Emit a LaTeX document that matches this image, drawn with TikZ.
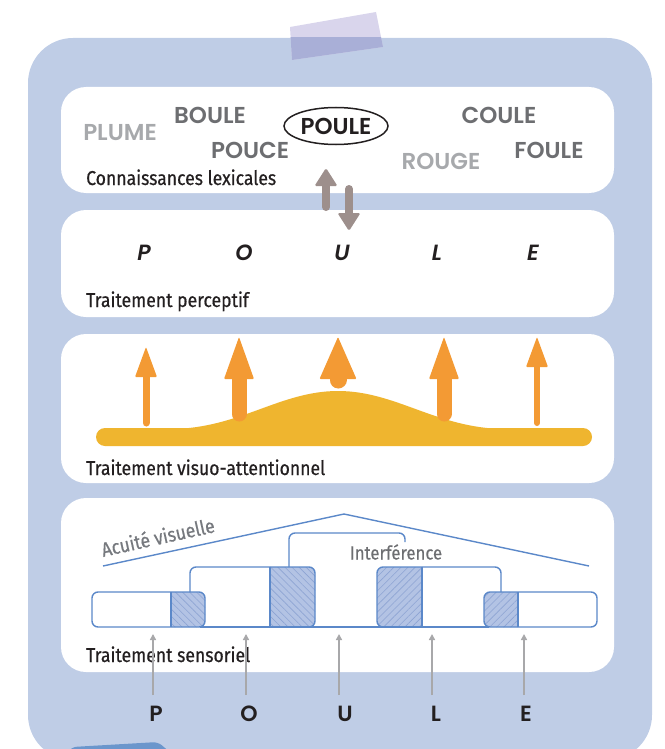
\documentclass[tikz,border=0pt]{standalone}
\usepackage{fontspec}
\setmainfont{Fira Sans}
\newfontfamily\labelfont[FakeStretch=0.88,FakeBold=0.5]{Fira Sans}
\newfontfamily\wordfont[BoldFont={* SemiBold},BoldItalicFont={* SemiBold Italic}]{Poppins}
\usetikzlibrary{patterns.meta,arrows.meta,shapes.geometric}

\definecolor{panelblue}{HTML}{BFCDE6}
\definecolor{tapelilac}{HTML}{D9D5EC}
\definecolor{tapeover}{HTML}{A9AFD7}
\definecolor{tabblue}{HTML}{6B96CC}
\definecolor{inkdark}{HTML}{231F20}
\definecolor{wordgrey}{HTML}{6D6E71}
\definecolor{palegrey}{HTML}{A7A9AC}
\definecolor{lexbrown}{HTML}{9D8F8C}
\definecolor{attorange}{HTML}{F39A34}
\definecolor{attyellow}{HTML}{EFB52F}
\definecolor{linkblue}{HTML}{5B88C9}
\definecolor{hatchfill}{HTML}{B3C3E4}
\definecolor{hatchline}{HTML}{8DA4D3}
\definecolor{stemgrey}{HTML}{A8A8AA}
\definecolor{acuitygrey}{HTML}{76797E}

\tikzset{
  stagebox/.style={fill=white, rounded corners=25, minimum width=553, inner sep=0},
  stagelabel/.style={font=\labelfont\fontsize{20}{20}\selectfont, text=inkdark, anchor=base west, inner sep=0},
  word/.style={font=\wordfont\bfseries\fontsize{23}{23}\selectfont, text=wordgrey, inner sep=0},
  paleword/.style={word, text=palegrey},
  percletter/.style={font=\wordfont\bfseries\itshape\fontsize{22}{22}\selectfont, text=inkdark, inner sep=0},
  inletter/.style={font=\wordfont\bfseries\fontsize{22}{22}\selectfont, text=inkdark, inner sep=0},
  link/.style={draw=linkblue, line width=1.4},
  hatchleft/.style={preaction={fill=hatchfill}, pattern={Lines[angle=-45,distance=5pt,line width=0.6pt]}, pattern color=hatchline},
  hatchright/.style={preaction={fill=hatchfill}, pattern={Lines[angle=45,distance=5pt,line width=0.6pt]}, pattern color=hatchline},
  stem/.style={draw=stemgrey, line width=1.6, -{Triangle[length=6,width=6]}},
}

\begin{document}
\begin{tikzpicture}[x=1pt,y=-1pt]
  \useasboundingbox (0,0) rectangle (664,749);
  \clip (0,0) rectangle (664,749);

  % panel, tape and tab
  \fill[panelblue, rounded corners=45] (28,38) rectangle (652,760);
  \fill[tapelilac] (290,27) -- (376,12) -- (383,47) -- (292,60) -- cycle;
  \begin{scope}
    \clip (0,38) rectangle (664,100);
    \fill[tapeover] (290,27) -- (376,12) -- (383,47) -- (292,60) -- cycle;
  \end{scope}
  \fill[tabblue, rounded corners=5] (66,754) -- (72,747) -- (158,742) -- (172,754) -- cycle;

  % the four stages
  \node[stagebox, minimum height=106] (lex) at (337.5,140) {};
  \node[stagebox, minimum height=107] (perc) at (337.5,263.5) {};
  \node[stagebox, minimum height=149] (att) at (337.5,408.5) {};
  \node[stagebox, minimum height=174] (sens) at (337.5,585) {};

  \node[stagelabel] (lexlabel) at (86,185) {Connaissances lexicales};
  \node[stagelabel] (perclabel) at (86,307) {Traitement perceptif};
  \node[stagelabel] (attlabel) at (86,475) {Traitement visuo-attentionnel};
  \node[stagelabel] (senslabel) at (86,662) {Traitement sensoriel};

  % lexical candidates
  \node[paleword] (plume) at (120,133) {PLUME};
  \node[word] (boule) at (210,115) {BOULE};
  \node[word] (pouce) at (250,150) {POUCE};
  \node[word, text=inkdark, draw=inkdark, line width=1.5, ellipse, minimum width=104, minimum height=37] (poule) at (336,126) {POULE};
  \node[word] (coule) at (499,115) {COULE};
  \node[paleword] (rouge) at (441,161) {ROUGE};
  \node[word] (foule) at (549,150) {FOULE};

  % exchange between lexicon and percept
  \draw[lexbrown, line width=8, line cap=round] (326,207) -- (326,184);
  \fill[lexbrown, rounded corners=1.5] (326,168) -- (337.5,186) -- (314.5,186) -- cycle;
  \draw[lexbrown, line width=8, line cap=round] (349,189) -- (349,214);
  \fill[lexbrown, rounded corners=1.5] (349,231) -- (360.5,213) -- (337.5,213) -- cycle;

  % perceived letters
  \foreach \x/\l in {144/P, 244/O, 342/U, 437/L, 533/E}
    \node[percletter] (perc\l) at (\x,253) {\l};

  % attention window
  \fill[attyellow, rounded corners=9] (96,428) rectangle (592,446);
  \fill[attyellow] (172,429) .. controls (240,428) and (280,391) .. (338,391)
    .. controls (396,391) and (436,428) .. (504,429) -- cycle;
  \foreach \x/\tip/\base/\hw/\sw/\bot in {146/347/377/11/7/423, 239/337/379/15/15/414,
      338/337/379/18.5/17/380, 444/337/379/15/15/414, 537/337/367/11/6/423} {
    \draw[attorange, line width=\sw, line cap=round] (\x,\bot) -- (\x,\base-1);
    \fill[attorange, rounded corners=1] (\x,\tip) -- (\x+\hw,\base) -- (\x-\hw,\base) -- cycle;
  }

  % sensory input
  \draw[link] (103,566) -- (344,514) -- (589,566);
  \node[font=\labelfont\fontsize{20}{20}\selectfont, text=acuitygrey, anchor=base west, inner sep=0, rotate=12.5] (acuity) at (103,557) {Acuité visuelle};
  \node[font=\labelfont\fontsize{19}{19}\selectfont, text=wordgrey, inner sep=0] (interf) at (396,552) {Interférence};

  \begin{scope}
    \clip[rounded corners=6] (92,592) rectangle (205,627);
    \path[hatchleft] (171,585) rectangle (212,635);
  \end{scope}
  \draw[link, rounded corners=6] (92,592) rectangle (205,627);
  \draw[link] (171,592) -- (171,627);

  \begin{scope}
    \clip (270,560) rectangle (330,635);
    \path[hatchleft, link, rounded corners=6] (255,567) rectangle (315,627);
  \end{scope}
  \draw[link] (270,567) -- (270,627);

  \begin{scope}
    \clip (360,560) rectangle (422,635);
    \path[hatchright, link, rounded corners=6] (377,567) rectangle (437,627);
  \end{scope}
  \draw[link] (422,567) -- (422,627);

  \begin{scope}
    \clip[rounded corners=6] (484,592) rectangle (597,627);
    \path[hatchright] (478,585) rectangle (518,635);
  \end{scope}
  \draw[link, rounded corners=6] (484,592) rectangle (597,627);
  \draw[link] (518,592) -- (518,627);

  \draw[link] (200,627) -- (489,627);
  \draw[link, rounded corners=6] (190,592) |- (270,567);
  \draw[link, rounded corners=6] (422,567) -| (501,592);
  \draw[link, rounded corners=6] (289,567) |- (405,533) -- (405,542);

  % input letters
  \foreach \x/\lx/\l in {153/156/P, 246/249/O, 339/345/U, 432/436/L, 524/526/E} {
    \node[inletter] (in\l) at (\lx,714) {\l};
    \coordinate (foot\l) at (\x,695);
    \coordinate (tip\l) at (\x,634);
    \draw[stem] (foot\l) -- (tip\l);
  }
\end{tikzpicture}
\end{document}
